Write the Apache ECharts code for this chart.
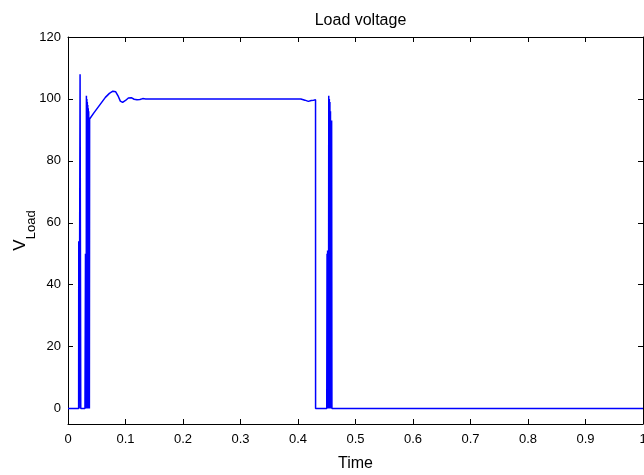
<!DOCTYPE html>
<html>
<head>
<meta charset="utf-8">
<script src="https://cdn.jsdelivr.net/npm/echarts@6/dist/echarts.min.js"></script>
<style>html,body{margin:0;padding:0;background:#fff;}#c{width:644px;height:475px;}</style>
</head>
<body>
<div id="c"></div>
<script>
// Data
const times = [
  0, 0.0185, 0.0187, 0.0195, 0.0210, 0.0222, 0.0295,
  0.0300, 0.0304, 0.0308, 0.0312, 0.0316, 0.0320, 0.0324, 0.0328, 0.0332, 0.0336, 0.0340, 0.0344, 0.0348, 0.0352, 0.0356, 0.0360, 0.0364, 0.0368, 0.0372,
  0.0376, 0.045, 0.055, 0.065, 0.072, 0.078, 0.083, 0.087, 0.091, 0.095, 0.100, 0.105, 0.110, 0.115, 0.120, 0.125, 0.130, 0.135,
  0.200, 0.300, 0.405, 0.412, 0.418, 0.423, 0.427, 0.4305, 0.4306,
  0.4500, 0.4505, 0.4510, 0.4515, 0.4520, 0.4525, 0.4530, 0.4535, 0.4540, 0.4545, 0.4550, 0.4555, 0.4560, 0.4565, 0.4570, 0.4575, 0.4580, 0.4585, 0.4590,
  1.0
];
const volts = [
  0, 0, 54, 0, 108, 0, 0,
  0, 50, 0, 50, 0, 101, 0, 100, 0, 99, 0, 98, 0, 97, 0, 96, 0, 94, 0,
  93.5, 95.5, 98, 100.5, 101.8, 102.5, 102.3, 101, 99.3, 98.9, 99.5, 100.3, 100.4, 99.9, 99.7, 99.8, 100.1, 100,
  100, 100, 100, 99.6, 99.2, 99.5, 99.6, 99.7, 0,
  0, 50, 0, 51, 0, 50, 0, 101, 0, 100, 0, 99, 0, 96, 0, 93, 0, 93, 0,
  0
];
const xTicks = [0, 0.1, 0.2, 0.3, 0.4, 0.5, 0.6, 0.7, 0.8, 0.9, 1];
const yTicks = [0, 20, 40, 60, 80, 100, 120];

const FONT = 'Liberation Sans, Arial, sans-serif';
const chart = echarts.init(document.getElementById('c'), null, {renderer: 'canvas'});
const axisLine = {show: true, onZero: false, lineStyle: {color: '#000', width: 1}};
const tick = {show: true, inside: true, length: 5, lineStyle: {color: '#000', width: 1}};
chart.setOption({
  animation: false,
  backgroundColor: '#fff',
  title: {
    text: 'Load voltage', left: 355.5, textAlign: 'center', top: 8,
    textStyle: {fontFamily: FONT, fontSize: 16, fontWeight: 'normal', color: '#000'}
  },
  grid: {left: 68, right: 1, top: 37, bottom: 51, outerBoundsMode: 'none', containLabel: false},
  xAxis: [{
    type: 'value', min: 0, max: 1, interval: 0.1, position: 'bottom',
    name: 'Time', nameLocation: 'middle', nameGap: 32, nameMoveOverlap: false,
    nameTextStyle: {fontFamily: FONT, fontSize: 16, color: '#000'},
    axisLine: axisLine, axisTick: {...tick, customValues: xTicks},
    axisLabel: {customValues: xTicks, fontFamily: FONT, fontSize: 13, color: '#000', margin: 9,
      formatter: v => String(Math.round(v * 10) / 10)},
    splitLine: {show: false}
  }, {
    type: 'value', min: 0, max: 1, interval: 0.1, position: 'top',
    axisLine: axisLine, axisTick: {...tick, customValues: xTicks},
    axisLabel: {show: false}, splitLine: {show: false}
  }],
  yAxis: [{
    type: 'value', min: -5, max: 120, position: 'left',
    name: '{v|V}{s|Load}', nameLocation: 'middle', nameGap: 30, nameRotate: 90, nameMoveOverlap: false,
    nameTextStyle: {
      fontFamily: FONT, color: '#000',
      rich: {
        v: {fontFamily: FONT, fontSize: 17, color: '#000', verticalAlign: 'top', lineHeight: 26},
        s: {fontFamily: FONT, fontSize: 13, color: '#000', verticalAlign: 'bottom', lineHeight: 26}
      }
    },
    axisLine: axisLine, axisTick: {...tick, customValues: yTicks},
    axisLabel: {customValues: yTicks, fontFamily: FONT, fontSize: 13, color: '#000', margin: 7},
    splitLine: {show: false}
  }, {
    type: 'value', min: -5, max: 120, position: 'right',
    axisLine: axisLine, axisTick: {...tick, customValues: yTicks},
    axisLabel: {show: false}, splitLine: {show: false}
  }],
  series: [{
    type: 'line', xAxisIndex: 0, yAxisIndex: 0,
    data: times.map((t, i) => [t, volts[i]]),
    showSymbol: false, symbol: 'none',
    lineStyle: {color: '#0000ff', width: 1.5},
    itemStyle: {color: '#0000ff'}
  }]
});
</script>
</body>
</html>
